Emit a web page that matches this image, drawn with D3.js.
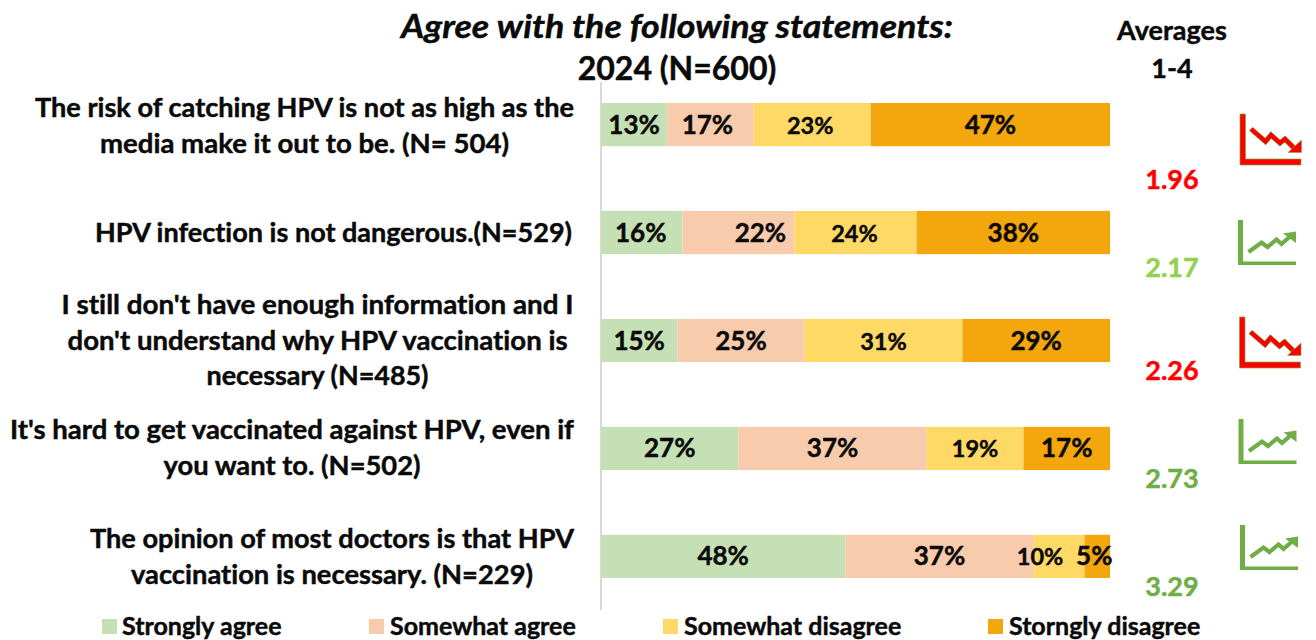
<!doctype html>
<html>
<head>
<meta charset='utf-8' />
<script src="https://cdnjs.cloudflare.com/ajax/libs/d3/7.8.5/d3.min.js"></script>
<style>
  html, body { margin: 0; padding: 0; background: #fff; }
  svg { display: block; }
  text { font-family: Lato, "Open Sans", sans-serif; font-weight: 700; fill: #0a0a0a; stroke: #0a0a0a; stroke-width: 0.45px; font-variant-ligatures: none; }
</style>
</head>
<body>
<div id="display1"></div>
<script>
var categories = ["risk", "danger", "info", "access", "doctors"];
var rowLines = [
  ["The risk of catching HPV is not as high as the", "media make it out to be. (N= 504)"],
  ["HPV infection is not dangerous.(N=529)"],
  ["I still don't have enough information and I", "don't understand why HPV vaccination is", "necessary (N=485)"],
  ["It's hard to get vaccinated against HPV, even if", "you want to. (N=502)"],
  ["The opinion of most doctors is that HPV", "vaccination is necessary. (N=229)"]
];
var seriesNames = ["Strongly agree", "Somewhat agree", "Somewhat disagree", "Storngly disagree"];
var stronglyAgree = [13, 16, 15, 27, 48];
var somewhatAgree = [17, 22, 25, 37, 37];
var somewhatDisagree = [23, 24, 31, 19, 10];
var stronglyDisagree = [47, 38, 29, 17, 5];
var averages = ["1.96", "2.17", "2.26", "2.73", "3.29"];
var trends = ["down", "up", "down", "up", "up"];

var colors = ["#c5e0b4", "#f8cbad", "#ffd966", "#f4a60d"];
var avgColors = ["#ff0000", "#92d050", "#ff0000", "#70ad47", "#70ad47"];

var svg = d3.select("#display1").append("svg").attr("width", 1316).attr("height", 640);

var x = d3.scaleLinear().domain([0, 100]).range([601, 1110]);
var y = d3.scaleBand().domain(categories).range([103, 578]).paddingInner(0.6);

var table = categories.map(function (c, i) {
  return { cat: c, idx: i, a: stronglyAgree[i], b: somewhatAgree[i], c: somewhatDisagree[i], d: stronglyDisagree[i] };
});
var keys = ["a", "b", "c", "d"];
var stacked = d3.stack().keys(keys)(table);

// titles
svg.append("text").attr("x", 677).attr("y", 38).attr("text-anchor", "middle")
  .attr("textLength", 552).attr("lengthAdjust", "spacingAndGlyphs")
  .style("font-size", "33px").style("font-style", "italic").text("Agree with the following statements:");
svg.append("text").attr("x", 677).attr("y", 80).attr("text-anchor", "middle")
  .style("font-size", "32px").text("2024 (N=600)");
svg.append("text").attr("x", 1172).attr("y", 40).attr("text-anchor", "middle")
  .style("font-size", "27px").text("Averages");
svg.append("text").attr("x", 1172).attr("y", 78).attr("text-anchor", "middle")
  .style("font-size", "27px").text("1-4");

// vertical axis line
svg.append("line").attr("x1", x(0)).attr("x2", x(0)).attr("y1", 82).attr("y2", 610)
  .attr("stroke", "#d9d9d9").attr("stroke-width", 2);

// bars
var groups = svg.selectAll("g.layer").data(stacked).enter().append("g").attr("class", "layer")
  .attr("fill", function (d, i) { return colors[i]; });
groups.selectAll("rect").data(function (d) { return d; }).enter().append("rect")
  .attr("x", function (d) { return x(d[0]); })
  .attr("width", function (d) { return x(d[1]) - x(d[0]); })
  .attr("y", function (d) { return y(d.data.cat); })
  .attr("height", y.bandwidth());

// value labels: a few sit off centre in the original
var nudges = {
  a: [0, -1, 0, 0, 0],
  b: [-3, 22, 0, 0, 0],
  c: [-2, -1, 0, 0, -19],
  d: [0, 0, 0, 0, -3]
};
groups.selectAll("text").data(function (d) { return d; }).enter().append("text")
  .attr("x", function (d) { return x((d[0] + d[1]) / 2) + nudges[this.parentNode.__data__.key][d.data.idx]; })
  .attr("y", function (d) { return y(d.data.cat) + y.bandwidth() / 2 + 9; })
  .attr("text-anchor", "middle")
  .style("font-size", function () { return this.parentNode.__data__.key === "c" ? "23.5px" : "26px"; })
  .text(function (d) { return (d[1] - d[0]) + "%"; });

// row labels, stretched to the measured line widths
var labelCenters = [304.5, 333.5, 317.5, 292, 332];
var labelTops = [117, 242, 314, 439, 548];
var labelWidths = [[539, 409], [477], [512, 500, 222], [564, 257], [484, 402]];
var rowText = svg.selectAll("g.row").data(rowLines).enter().append("g").attr("class", "row");
rowText.selectAll("text").data(function (d, i) { return d.map(function (l, j) { return { l: l, i: i, j: j }; }); })
  .enter().append("text")
  .attr("x", function (d) { return labelCenters[d.i]; })
  .attr("y", function (d) { return labelTops[d.i] + d.j * 35.5; })
  .attr("text-anchor", "middle")
  .attr("textLength", function (d) { return labelWidths[d.i][d.j]; })
  .attr("lengthAdjust", "spacingAndGlyphs")
  .style("font-size", "27px")
  .text(function (d) { return d.l; });

// averages
var avgY = [189, 277, 380, 488, 596];
svg.selectAll("text.avg").data(averages).enter().append("text").attr("class", "avg")
  .attr("x", 1172).attr("y", function (d, i) { return avgY[i]; })
  .attr("text-anchor", "middle").style("font-size", "27px")
  .style("fill", function (d, i) { return avgColors[i]; })
  .style("stroke", function (d, i) { return avgColors[i]; })
  .text(function (d) { return d; });

// trend icons
var iconX = [1240, 1238, 1239.5, 1238.5, 1240];
var iconY = [114, 220, 317, 419, 525];
function drawIcon(g, kind) {
  if (kind === "down") {
    g.append("path").attr("d", "M0 0H5.5V45H61V51H0Z").attr("fill", "#ff0000").attr("stroke", "#70ad47").attr("stroke-width", 0.7);
    g.append("path").attr("d", "M11 15L25.5 27.5L31 21L40 29L45 25L54 34").attr("fill", "none").attr("stroke", "#70ad47").attr("stroke-width", 5.4);
    g.append("path").attr("d", "M11 15L25.5 27.5L31 21L40 29L45 25L54 34").attr("fill", "none").attr("stroke", "#ff0000").attr("stroke-width", 4.2);
    g.append("path").attr("d", "M61.5 26V38.5H48Z").attr("fill", "#ff0000").attr("stroke", "#70ad47").attr("stroke-width", 0.6);
  } else {
    g.append("path").attr("d", "M0 0H5V41.5H58V45H0Z").attr("fill", "#70ad47");
    g.append("path").attr("d", "M10.5 32L23.5 22.5L29.5 27L38.5 19.5L43.5 24L52 16.5").attr("fill", "none").attr("stroke", "#70ad47").attr("stroke-width", 4.2);
    g.append("path").attr("d", "M45 13.5L58 11.5V23Z").attr("fill", "#70ad47");
  }
}
trends.forEach(function (t, i) {
  drawIcon(svg.append("g").attr("transform", "translate(" + iconX[i] + "," + iconY[i] + ")"), t);
});

// legend
var legendSwatch = [102, 369, 663, 988];
var legendText = [122, 390, 684, 1009];
svg.selectAll("rect.lg").data(seriesNames).enter().append("rect").attr("class", "lg")
  .attr("x", function (d, i) { return legendSwatch[i]; }).attr("y", 619)
  .attr("width", 15).attr("height", 15)
  .attr("fill", function (d, i) { return colors[i]; });
svg.selectAll("text.lg").data(seriesNames).enter().append("text").attr("class", "lg")
  .attr("x", function (d, i) { return legendText[i]; }).attr("y", 635)
  .style("font-size", "25px")
  .text(function (d) { return d; });
</script>
</body>
</html>
